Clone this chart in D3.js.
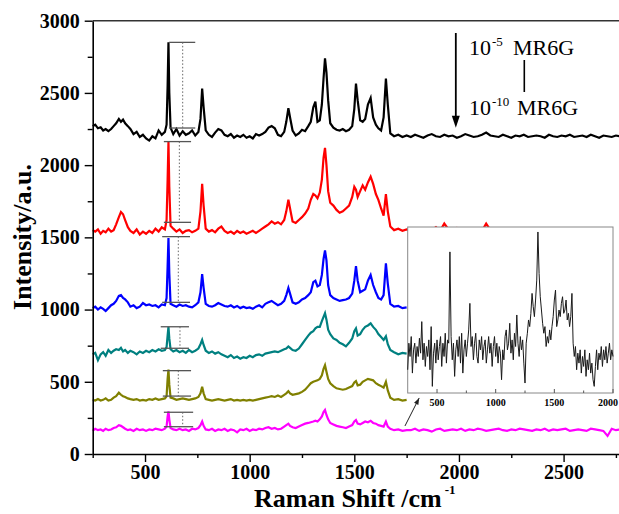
<!DOCTYPE html>
<html>
<head>
<meta charset="utf-8">
<script src="https://cdn.jsdelivr.net/npm/d3@7/dist/d3.min.js"></script>
<style>
  body { margin: 0; background: #fff; }
  svg { display: block; font-family: "Liberation Serif", "Times New Roman", serif; }
</style>
</head>
<body>
<div class="raman-chart"></div>
<script>
// raman shift grid (cm-1) shared by the six main spectra
var shift = [
  250, 262, 275, 288, 300, 312, 325, 338, 350, 362,
  375, 385, 395, 405, 418, 430, 445, 460, 475, 490,
  505, 520, 535, 550, 565, 580, 595, 603, 608, 612,
  616, 622, 635, 650, 665, 680, 695, 710, 725, 740,
  755, 765, 773, 780, 790, 805, 820, 835, 850, 865,
  880, 895, 910, 925, 940, 955, 970, 985, 1000, 1015,
  1030, 1045, 1060, 1075, 1090, 1105, 1120, 1135, 1150, 1165,
  1175, 1185, 1193, 1205, 1220, 1235, 1250, 1265, 1280, 1292,
  1304, 1314, 1324, 1335, 1345, 1353, 1360, 1367, 1375, 1385,
  1400, 1415, 1430, 1445, 1460, 1475, 1490, 1500, 1508, 1516,
  1528, 1540, 1552, 1565, 1578, 1590, 1603, 1615, 1628, 1640,
  1651, 1660, 1672, 1690, 1710, 1730, 1750
];

// 10^-5 M
var black = [
  2270, 2280, 2255, 2262, 2240, 2250, 2235, 2250, 2270, 2290,
  2320, 2300, 2315, 2290, 2270, 2250, 2215, 2230, 2195, 2210,
  2185, 2170, 2200, 2185, 2240, 2210, 2230, 2280, 2550, 2850,
  2500, 2260, 2215, 2250, 2205, 2235, 2210, 2220, 2240, 2205,
  2230, 2320, 2530, 2400, 2240, 2210, 2195, 2225, 2250, 2240,
  2210, 2200, 2215, 2190, 2205, 2195, 2210, 2190, 2200, 2185,
  2215, 2205, 2215, 2230, 2260, 2270, 2255, 2210, 2200, 2230,
  2300, 2395, 2330, 2240, 2205, 2220, 2245, 2235, 2270, 2300,
  2400, 2440, 2300, 2310, 2420, 2600, 2740, 2640, 2450, 2290,
  2260, 2245, 2240, 2250, 2235, 2245, 2270, 2390, 2565, 2450,
  2310, 2300, 2320, 2420, 2465, 2330, 2280, 2255, 2240, 2330,
  2600, 2420, 2220, 2200, 2210, 2195, 2205
];
var red = [
  1550, 1540, 1555, 1525, 1545, 1535, 1560, 1540, 1550, 1590,
  1640, 1675, 1660, 1620, 1570, 1545, 1530, 1555, 1520, 1540,
  1525, 1545, 1530, 1560, 1540, 1570, 1555, 1620, 1900, 2160,
  1850, 1580, 1560, 1540, 1555, 1530, 1545, 1550, 1535, 1545,
  1560, 1680, 1870, 1720, 1560, 1540, 1550, 1535, 1560, 1575,
  1545, 1530, 1540, 1525, 1545, 1530, 1540, 1525, 1535, 1545,
  1530, 1545, 1560, 1575, 1590, 1610, 1595, 1605, 1590, 1620,
  1680, 1760, 1700, 1610, 1600, 1620, 1640, 1665, 1700, 1760,
  1800, 1790, 1770, 1810, 1900, 2050, 2120, 2000, 1820, 1740,
  1720, 1690, 1670, 1680, 1700, 1720, 1780, 1850, 1830, 1780,
  1820, 1860, 1830, 1880, 1920, 1870, 1800, 1760, 1700, 1650,
  1800, 1680, 1575, 1550, 1560, 1545, 1555
];
var blue = [
  1010, 1020, 1000, 1015, 1005, 990, 1010, 1030, 1040, 1060,
  1095, 1100, 1080, 1070, 1050, 1020, 1030, 1010, 1020, 1045,
  1030, 1035, 1025, 1030, 1015, 1035, 1030, 1080, 1300, 1495,
  1250, 1040, 1030, 1020, 1035, 1025, 1030, 1020, 1015, 1030,
  1050, 1120, 1245, 1150, 1040, 1025, 1020, 1030, 1045, 1035,
  1025, 1020, 1030, 1015, 1025, 1010, 1020, 1010, 1015, 1005,
  1020, 1030, 1015, 1040, 1050, 1060, 1045, 1030, 1040, 1060,
  1100, 1150, 1110, 1050, 1040, 1050, 1070, 1080, 1100, 1120,
  1190, 1200, 1160, 1170, 1240, 1350, 1410, 1340, 1170, 1100,
  1080, 1070, 1060, 1065, 1070, 1080, 1110, 1200, 1300, 1200,
  1120, 1130, 1140, 1200, 1240, 1170, 1120, 1080, 1070, 1100,
  1320, 1180, 1040, 1020, 1025, 1010, 1015
];
var teal = [
  690, 700, 650, 690, 705, 680, 720, 700, 715, 725,
  720, 735, 710, 720, 700, 715, 705, 690, 710, 700,
  715, 705, 720, 710, 725, 715, 720, 740, 820, 880,
  800, 725, 710, 720, 705, 715, 700, 720, 705, 715,
  730, 760, 790, 755, 715, 700, 710, 695, 705, 690,
  680, 670, 685, 665, 675, 660, 670, 665, 680, 670,
  685, 690, 680, 695, 700, 705, 710, 705, 715, 725,
  730, 745, 735, 720, 715, 730, 760, 790, 820, 840,
  850, 870, 880, 880, 920, 950, 975, 930, 860, 830,
  800, 790, 770, 760, 745, 770, 800, 850, 870, 820,
  830, 860, 880, 890, 905, 880, 860, 830, 810, 790,
  815, 760, 720, 705, 690, 700, 695
];
var olive = [
  375, 370, 380, 370, 375, 385, 370, 375, 390, 400,
  425, 410, 400, 395, 385, 380, 375, 380, 370, 375,
  370, 380, 375, 385, 375, 380, 385, 400, 520, 585,
  480, 390, 385, 375, 380, 385, 380, 375, 380, 385,
  395, 420, 465, 420, 380, 375, 370, 375, 380, 375,
  370, 375, 380, 370, 375, 370, 375, 370, 375, 370,
  375, 380, 385, 390, 395, 400, 395, 405, 395, 410,
  420, 435, 420, 410, 415, 420, 430, 445, 470, 490,
  500, 505, 510, 520, 545, 590, 615, 570, 520, 490,
  470, 455, 450, 445, 450, 460, 470, 495, 505, 475,
  480, 500, 510, 520, 515, 510, 490, 480, 470, 460,
  500, 440, 390, 375, 380, 370, 375
];
// 10^-10 M
var magenta = [
  160, 175, 165, 170, 160, 175, 165, 170, 180, 185,
  200, 195, 185, 175, 165, 170, 160, 175, 165, 170,
  160, 170, 165, 175, 170, 165, 175, 190, 260, 295,
  240, 180, 170, 165, 175, 165, 170, 160, 175, 170,
  180, 200, 225, 195, 170, 165, 175, 160, 170, 165,
  175, 160, 170, 165, 150, 170, 165, 175, 160, 170,
  165, 175, 170, 180, 185, 175, 180, 170, 175, 190,
  200, 210, 195, 185, 180, 190, 200, 210, 215, 220,
  225, 230, 225, 240, 260, 290, 305, 270, 240, 215,
  205, 195, 190, 185, 180, 190, 200, 225, 235, 210,
  205, 215, 225, 220, 230, 215, 210, 200, 195, 190,
  225, 190, 175, 165, 170, 160, 165
];

// flat high-shift part (only black and magenta run to the edge, red hides behind the inset)
var tailShift = [
  1770, 1790, 1810, 1830, 1850, 1870, 1890, 1910, 1930, 1950,
  1970, 1990, 2010, 2030, 2050, 2070, 2090, 2110, 2130, 2150,
  2170, 2190, 2210, 2230, 2250, 2270, 2290, 2310, 2330, 2350,
  2370, 2390, 2410, 2430, 2450, 2470, 2490, 2510, 2530, 2550,
  2570, 2590, 2610, 2630, 2650, 2670, 2690, 2710, 2730, 2750,
  2770
];
var blackTail = [
  2195, 2210, 2200, 2190, 2205, 2215, 2200, 2195, 2210, 2200,
  2205, 2190, 2200, 2215, 2205, 2195, 2200, 2210, 2225, 2205,
  2200, 2195, 2210, 2200, 2190, 2205, 2200, 2210, 2195, 2200,
  2205, 2200, 2190, 2210, 2200, 2195, 2205, 2200, 2210, 2195,
  2200, 2205, 2195, 2210, 2200, 2190, 2205, 2200, 2195, 2205,
  2200
];
var magentaTail = [
  165, 175, 160, 170, 165, 155, 170, 175, 160, 165,
  170, 165, 175, 160, 170, 165, 175, 170, 160, 165,
  170, 175, 165, 160, 170, 165, 175, 170, 165, 160,
  170, 165, 175, 160, 170, 165, 170, 175, 160, 165,
  170, 165, 160, 175, 170, 165, 160, 125, 175, 165,
  170
];
var redTail = [
  1550, 1560, 1545, 1555, 1560, 1550, 1570, 1545, 1595, 1555,
  1550, 1565, 1555, 1545, 1560, 1550, 1555, 1545, 1595, 1550,
  1560, 1545, 1555
];

// peak-height markers at 612 cm-1
var peakTop = [2850, 2163, 1505, 881, 577, 289];
var peakBase = [2257, 1604, 1050, 732, 401, 189];
var capFrom = [615, 590, 582, 575, 585, 590];
var capTo = [740, 720, 715, 710, 720, 730];
var guideAt = [680, 664, 659, 667, 659, 680];

// inset: enlarged 10^-10 M spectrum (relative counts)
var insetShift = [
  250, 260, 270, 280, 290, 300, 310, 320, 330, 340,
  350, 360, 370, 380, 390, 400, 410, 420, 430, 440,
  450, 460, 470, 480, 490, 500, 510, 520, 530, 540,
  550, 560, 570, 580, 590, 600, 610, 620, 630, 640,
  650, 660, 670, 680, 690, 700, 710, 720, 730, 740,
  750, 760, 770, 780, 790, 800, 810, 820, 830, 840,
  850, 860, 870, 880, 890, 900, 910, 920, 930, 940,
  950, 960, 970, 980, 990, 1000, 1010, 1020, 1030, 1040,
  1050, 1060, 1070, 1080, 1090, 1100, 1110, 1120, 1130, 1140,
  1150, 1160, 1170, 1180, 1190, 1200, 1210, 1220, 1230, 1240,
  1250, 1260, 1270, 1280, 1290, 1300, 1310, 1320, 1330, 1340,
  1350, 1360, 1370, 1380, 1390, 1400, 1410, 1420, 1430, 1440,
  1450, 1460, 1470, 1480, 1490, 1500, 1510, 1520, 1530, 1540,
  1550, 1560, 1570, 1580, 1590, 1600, 1610, 1620, 1630, 1640,
  1650, 1660, 1670, 1680, 1690, 1700, 1710, 1720, 1730, 1740,
  1750, 1760, 1770, 1780, 1790, 1800, 1810, 1820, 1830, 1840,
  1850, 1860, 1870, 1880, 1890, 1900, 1910, 1920, 1930, 1940,
  1950, 1960, 1970, 1980, 1990, 2000
];
var insetCounts = [
  14, 30, 22, 34, 12, 26, 30, 18, 28, 22,
  33, 24, 43, 20, 30, 16, 28, 22, 32, 14,
  40, 4, 24, 30, 18, 32, 20, 28, 34, 16,
  30, 22, 36, 18, 32, 30, 85, 34, 20, 30,
  10, 26, 32, 22, 34, 18, 36, 12, 26, 32,
  22, 30, 38, 54, 28, 34, 20, 30, 36, 22,
  18, 32, 26, 34, 20, 28, 32, 18, 26, 34,
  24, 30, 16, 28, 34, 22, 30, 18, 28, 24,
  8, 26, 20, 34, 38, 26, 30, 42, 24, 32,
  20, 36, 28, 47, 30, 22, 34, 26, 32, 18,
  6, 30, 36, 44, 40, 48, 60, 52, 46, 56,
  68, 97, 72, 58, 50, 42, 36, 40, 28, 34,
  30, 38, 32, 40, 46, 56, 62, 40, 44, 50,
  46, 54, 58, 48, 50, 56, 44, 48, 40, 46,
  60, 30, 22, 28, 14, 24, 18, 26, 12, 22,
  16, 26, 10, 20, 14, 24, 12, 18, 8, 4,
  16, 26, 14, 24, 20, 28, 16, 26, 20, 28,
  18, 24, 30, 20, 26, 22
];

var xTicks = [500, 1000, 1500, 2000, 2500];
var xMinor = [250, 750, 1250, 1750, 2250, 2750];
var yTicks = [0, 500, 1000, 1500, 2000, 2500, 3000];
var yMinor = [250, 750, 1250, 1750, 2250, 2750];
var insetTicks = [500, 1000, 1500, 2000];
var insetMinor = [750, 1250, 1750];

var colors = ['#000000', '#ff0000', '#0000ff', '#008080', '#808000', '#ff00ff'];

draw();

function draw() {
  var width = 619,
    height = 514;

  var svg = d3.select('.raman-chart').append('svg')
    .attr('width', width).attr('height', height);

  var x = d3.scaleLinear().domain([250, 2770]).range([92.7, 620.1]);
  var y = d3.scaleLinear().domain([0, 3000]).range([454, 20.7]);

  var line = d3.line()
    .x(function (d) { return x(d[0]); })
    .y(function (d) { return y(d[1]); });

  var series = [
    d3.zip(shift.concat(tailShift), black.concat(blackTail)),
    d3.zip(shift.concat(tailShift.slice(0, redTail.length)), red.concat(redTail)),
    d3.zip(shift, blue),
    d3.zip(shift, teal),
    d3.zip(shift, olive),
    d3.zip(shift.concat(tailShift), magenta.concat(magentaTail))
  ];

  svg.append('g').selectAll('path')
    .data(series)
    .enter().append('path')
    .attr('d', line)
    .attr('fill', 'none')
    .attr('stroke', function (d, i) { return colors[i]; })
    .attr('stroke-width', 2.2)
    .attr('stroke-linejoin', 'miter');

  // peak height markers
  var marks = svg.append('g');
  peakTop.forEach(function (top, i) {
    [top, peakBase[i]].forEach(function (v) {
      marks.append('line')
        .attr('x1', x(capFrom[i])).attr('x2', x(capTo[i]))
        .attr('y1', y(v)).attr('y2', y(v))
        .attr('stroke', '#555').attr('stroke-width', 1.3);
    });
    marks.append('line')
      .attr('x1', x(guideAt[i])).attr('x2', x(guideAt[i]))
      .attr('y1', y(top)).attr('y2', y(peakBase[i]))
      .attr('stroke', '#666').attr('stroke-width', 1)
      .attr('stroke-dasharray', '1.5,2');
  });

  // axes
  var fmt = d3.format('d');
  var xAxis = svg.append('g').attr('transform', 'translate(0,' + y(0) + ')')
    .call(d3.axisBottom(x).tickValues(xTicks).tickFormat(fmt).tickSize(8).tickSizeOuter(0).tickPadding(3));
  svg.append('g').attr('transform', 'translate(0,' + y(0) + ')')
    .call(d3.axisBottom(x).tickValues(xMinor).tickSize(4).tickFormat(''))
    .select('.domain').remove();

  var yAxis = svg.append('g').attr('transform', 'translate(' + x(250) + ',0)')
    .call(d3.axisLeft(y).tickValues(yTicks).tickFormat(fmt).tickSize(8).tickSizeOuter(0).tickPadding(5));
  svg.append('g').attr('transform', 'translate(' + x(250) + ',0)')
    .call(d3.axisLeft(y).tickValues(yMinor).tickSize(5).tickFormat(''))
    .select('.domain').remove();

  svg.selectAll('.domain').attr('stroke', '#000').attr('stroke-width', 1.6);
  svg.selectAll('.tick line').attr('stroke', '#000').attr('stroke-width', 1.4);
  [xAxis, yAxis].forEach(function (a) {
    a.selectAll('text')
      .attr('font-family', '"Liberation Serif", serif')
      .attr('font-size', 20)
      .attr('font-weight', 'bold')
      .attr('fill', '#000');
  });

  // top frame
  svg.append('line')
    .attr('x1', x(250)).attr('x2', width)
    .attr('y1', y(3000)).attr('y2', y(3000))
    .attr('stroke', '#333').attr('stroke-width', 1.5);

  // axis titles
  var xTitle = svg.append('text')
    .attr('x', 254).attr('y', 507)
    .attr('font-size', 26).attr('font-weight', 'bold')
    .text('Raman Shift /cm');
  xTitle.append('tspan')
    .attr('dx', 3).attr('dy', -13).attr('font-size', 13)
    .text('-1');

  svg.append('text')
    .attr('transform', 'translate(31,237) rotate(-90)')
    .attr('text-anchor', 'middle')
    .attr('font-size', 26).attr('font-weight', 'bold')
    .text('Intensity/a.u.');

  // concentration legend with arrow
  var ax = x(1985), aTop = y(2915), aTip = y(2258);
  svg.append('line')
    .attr('x1', ax).attr('x2', ax).attr('y1', aTop).attr('y2', aTip - 8)
    .attr('stroke', '#000').attr('stroke-width', 1.8);
  svg.append('path')
    .attr('d', 'M' + (ax - 4) + ',' + (aTip - 12) + 'L' + (ax + 4) + ',' + (aTip - 12) + 'L' + ax + ',' + aTip + 'Z')
    .attr('fill', '#000');

  var lg1 = svg.append('text').attr('y', 55).attr('font-size', 22);
  lg1.append('tspan').attr('x', 469).text('10');
  lg1.append('tspan').attr('dx', 1).attr('dy', -9).attr('font-size', 13).text('-5');
  lg1.append('tspan').attr('x', 513).attr('dy', 9).text('MR6G');

  svg.append('line')
    .attr('x1', 524.3).attr('x2', 524.3).attr('y1', 60).attr('y2', 92)
    .attr('stroke', '#000').attr('stroke-width', 1.6);

  var lg2 = svg.append('text').attr('y', 115).attr('font-size', 22);
  lg2.append('tspan').attr('x', 469).text('10');
  lg2.append('tspan').attr('dx', 1).attr('dy', -9).attr('font-size', 13).text('-10');
  lg2.append('tspan').attr('x', 517).attr('dy', 9).text('MR6G');

  // inset
  var ix = d3.scaleLinear().domain([250, 2000]).range([407.7, 613]);
  var iy = d3.scaleLinear().domain([0, 100]).range([393, 227]);

  var inset = svg.append('g');
  inset.append('rect')
    .attr('x', ix(250)).attr('y', iy(100))
    .attr('width', ix(2000) - ix(250)).attr('height', iy(0) - iy(100))
    .attr('fill', '#fff').attr('stroke', '#888').attr('stroke-width', 1);

  var iline = d3.line()
    .x(function (d) { return ix(d[0]); })
    .y(function (d) { return iy(d[1]); });

  inset.append('path')
    .datum(d3.zip(insetShift, insetCounts))
    .attr('d', iline)
    .attr('fill', 'none')
    .attr('stroke', '#1a1a1a')
    .attr('stroke-width', 1);

  inset.selectAll('.itick')
    .data(insetTicks.concat(insetMinor))
    .enter().append('line')
    .attr('x1', function (d) { return ix(d); }).attr('x2', function (d) { return ix(d); })
    .attr('y1', iy(0)).attr('y2', function (d, i) { return iy(0) - (i < insetTicks.length ? 4 : 2.5); })
    .attr('stroke', '#555').attr('stroke-width', 1);

  // last label would run off the page edge, keep it just inside
  inset.selectAll('.ilabel')
    .data(insetTicks)
    .enter().append('text')
    .attr('x', function (d) { return Math.min(ix(d), width - 11); })
    .attr('y', 406)
    .attr('text-anchor', 'middle')
    .attr('font-size', 10).attr('font-weight', 'bold')
    .text(function (d) { return d; });

  // pointer from the lowest spectrum to the inset
  var p0 = [x(1742), y(194)], p1 = [x(1810), y(388)];
  var ang = Math.atan2(p1[1] - p0[1], p1[0] - p0[0]);
  svg.append('line')
    .attr('x1', p0[0]).attr('y1', p0[1]).attr('x2', p1[0]).attr('y2', p1[1])
    .attr('stroke', '#222').attr('stroke-width', 1);
  svg.append('path')
    .attr('d', 'M' + p1[0] + ',' + p1[1] +
      'L' + (p1[0] - 7 * Math.cos(ang - 0.35)) + ',' + (p1[1] - 7 * Math.sin(ang - 0.35)) +
      'L' + (p1[0] - 7 * Math.cos(ang + 0.35)) + ',' + (p1[1] - 7 * Math.sin(ang + 0.35)) + 'Z')
    .attr('fill', '#222');
}
</script>
</body>
</html>
